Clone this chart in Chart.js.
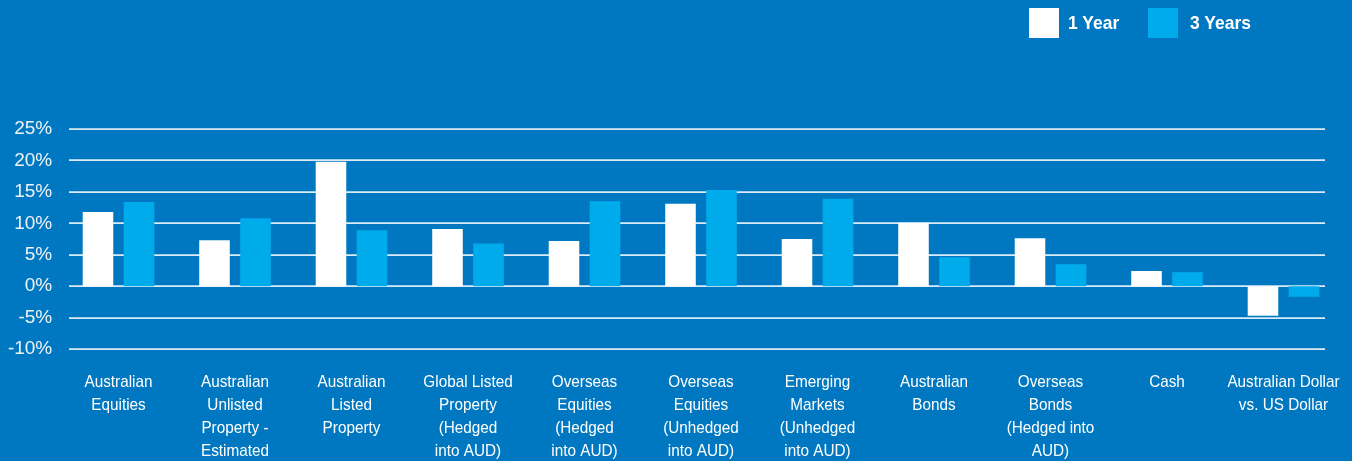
<!DOCTYPE html>
<html>
<head>
<meta charset="utf-8">
<script src="https://cdn.jsdelivr.net/npm/chart.js@4/dist/chart.umd.min.js"></script>
<style>
  html, body { margin: 0; padding: 0; background: #0078C1; }
  #wrap { position: relative; width: 1352px; height: 461px; }
  #chart { position: absolute; left: 0; top: 0; }
  .legend { position: absolute; top: 8px; height: 30px; display: flex; align-items: center;
            font-family: 'Liberation Sans', Arial, sans-serif;
            font-weight: bold; font-size: 19px; color: #ffffff; }
  .legend .sw { width: 30px; height: 30px; margin-right: 9px; flex: none; }
  .legend .tx { display: inline-block; transform: scaleX(0.92); transform-origin: left center; }
</style>
</head>
<body>
<div id="wrap">
  <canvas id="chart" width="1352" height="461"></canvas>
  <div class="legend" style="left:1029px"><span class="sw" style="background:#ffffff"></span><span class="tx">1 Year</span></div>
  <div class="legend" style="left:1148px"><span class="sw" style="background:#00ABEC; margin-right:12px"></span><span class="tx">3 Years</span></div>
</div>
<script>
// Asset classes shown along the x axis (multi-line labels)
const categories = [
  ['Australian', 'Equities'],
  ['Australian', 'Unlisted', 'Property -', 'Estimated'],
  ['Australian', 'Listed', 'Property'],
  ['Global Listed', 'Property', '(Hedged', 'into AUD)'],
  ['Overseas', 'Equities', '(Hedged', 'into AUD)'],
  ['Overseas', 'Equities', '(Unhedged', 'into AUD)'],
  ['Emerging', 'Markets', '(Unhedged', 'into AUD)'],
  ['Australian', 'Bonds'],
  ['Overseas', 'Bonds', '(Hedged into', 'AUD)'],
  ['Cash'],
  ['Australian Dollar', 'vs. US Dollar']
];

// Returns in percent
const oneYear    = [11.8, 7.3, 19.8, 9.1, 7.2, 13.1, 7.5, 10.1, 7.6, 2.4, -4.7];
const threeYears = [13.4, 10.8, 8.9, 6.8, 13.5, 15.3, 13.9, 4.6, 3.5, 2.2, -1.7];

// Y axis ticks
const yTicks = [-10, -5, 0, 5, 10, 15, 20, 25];

const seriesNames = ['1 Year', '3 Years'];

// Horizontal grid lines, inset from the plot edges, drawn behind the bars
const insetGrid = {
  id: 'insetGrid',
  beforeDatasetsDraw(chart) {
    const { ctx, scales: { y } } = chart;
    ctx.save();
    ctx.strokeStyle = 'rgba(238,245,251,0.92)';
    ctx.lineWidth = 1.7;
    yTicks.forEach(v => {
      const py = Math.round(y.getPixelForValue(v)) + 0.2;
      ctx.beginPath();
      ctx.moveTo(69, py);
      ctx.lineTo(1325, py);
      ctx.stroke();
    });
    ctx.restore();
  }
};

// Category labels in a narrow (horizontally condensed) face, centred under each bar pair
const narrowLabels = {
  id: 'narrowLabels',
  afterDraw(chart) {
    const { ctx, chartArea, scales: { x } } = chart;
    ctx.save();
    ctx.fillStyle = '#ffffff';
    ctx.font = "17px 'Liberation Sans', Arial, sans-serif";
    ctx.textAlign = 'center';
    ctx.textBaseline = 'middle';
    categories.forEach((lines, i) => {
      const cx = x.getPixelForValue(i);
      lines.forEach((line, j) => {
        const ly = chartArea.bottom + 33 + j * 23;
        ctx.save();
        ctx.translate(cx, ly);
        ctx.scale(0.9, 1);
        ctx.fillText(line, 0, 0);
        ctx.restore();
      });
    });
    ctx.restore();
  }
};

new Chart(document.getElementById('chart'), {
  type: 'bar',
  data: {
    labels: categories.map(l => l.join(' ')),
    datasets: [
      { label: seriesNames[0], data: oneYear, backgroundColor: '#ffffff',
        categoryPercentage: 0.704, barPercentage: 0.745 },
      { label: seriesNames[1], data: threeYears, backgroundColor: '#00ABEC',
        categoryPercentage: 0.704, barPercentage: 0.745 }
    ]
  },
  options: {
    responsive: false,
    animation: false,
    layout: { padding: { top: 129, right: 10.25, left: 0, bottom: 0 } },
    plugins: { legend: { display: false }, tooltip: { enabled: false } },
    scales: {
      x: {
        grid: { display: false, drawTicks: false },
        border: { display: false },
        ticks: { display: false },
        afterFit(scale) { scale.height = 112; scale.paddingLeft = 0; scale.paddingRight = 0; }
      },
      y: {
        min: -10,
        max: 25,
        afterBuildTicks(scale) { scale.ticks = yTicks.map(v => ({ value: v })); },
        grid: { display: false, drawTicks: false },
        border: { display: false },
        ticks: {
          color: '#eef3f9',
          padding: 8,
          font: { family: "'Liberation Sans', Arial, sans-serif", size: 19 },
          callback: v => v + '%'
        },
        afterFit(scale) { scale.width = 60.25; }
      }
    }
  },
  plugins: [insetGrid, narrowLabels]
});
</script>
</body>
</html>
